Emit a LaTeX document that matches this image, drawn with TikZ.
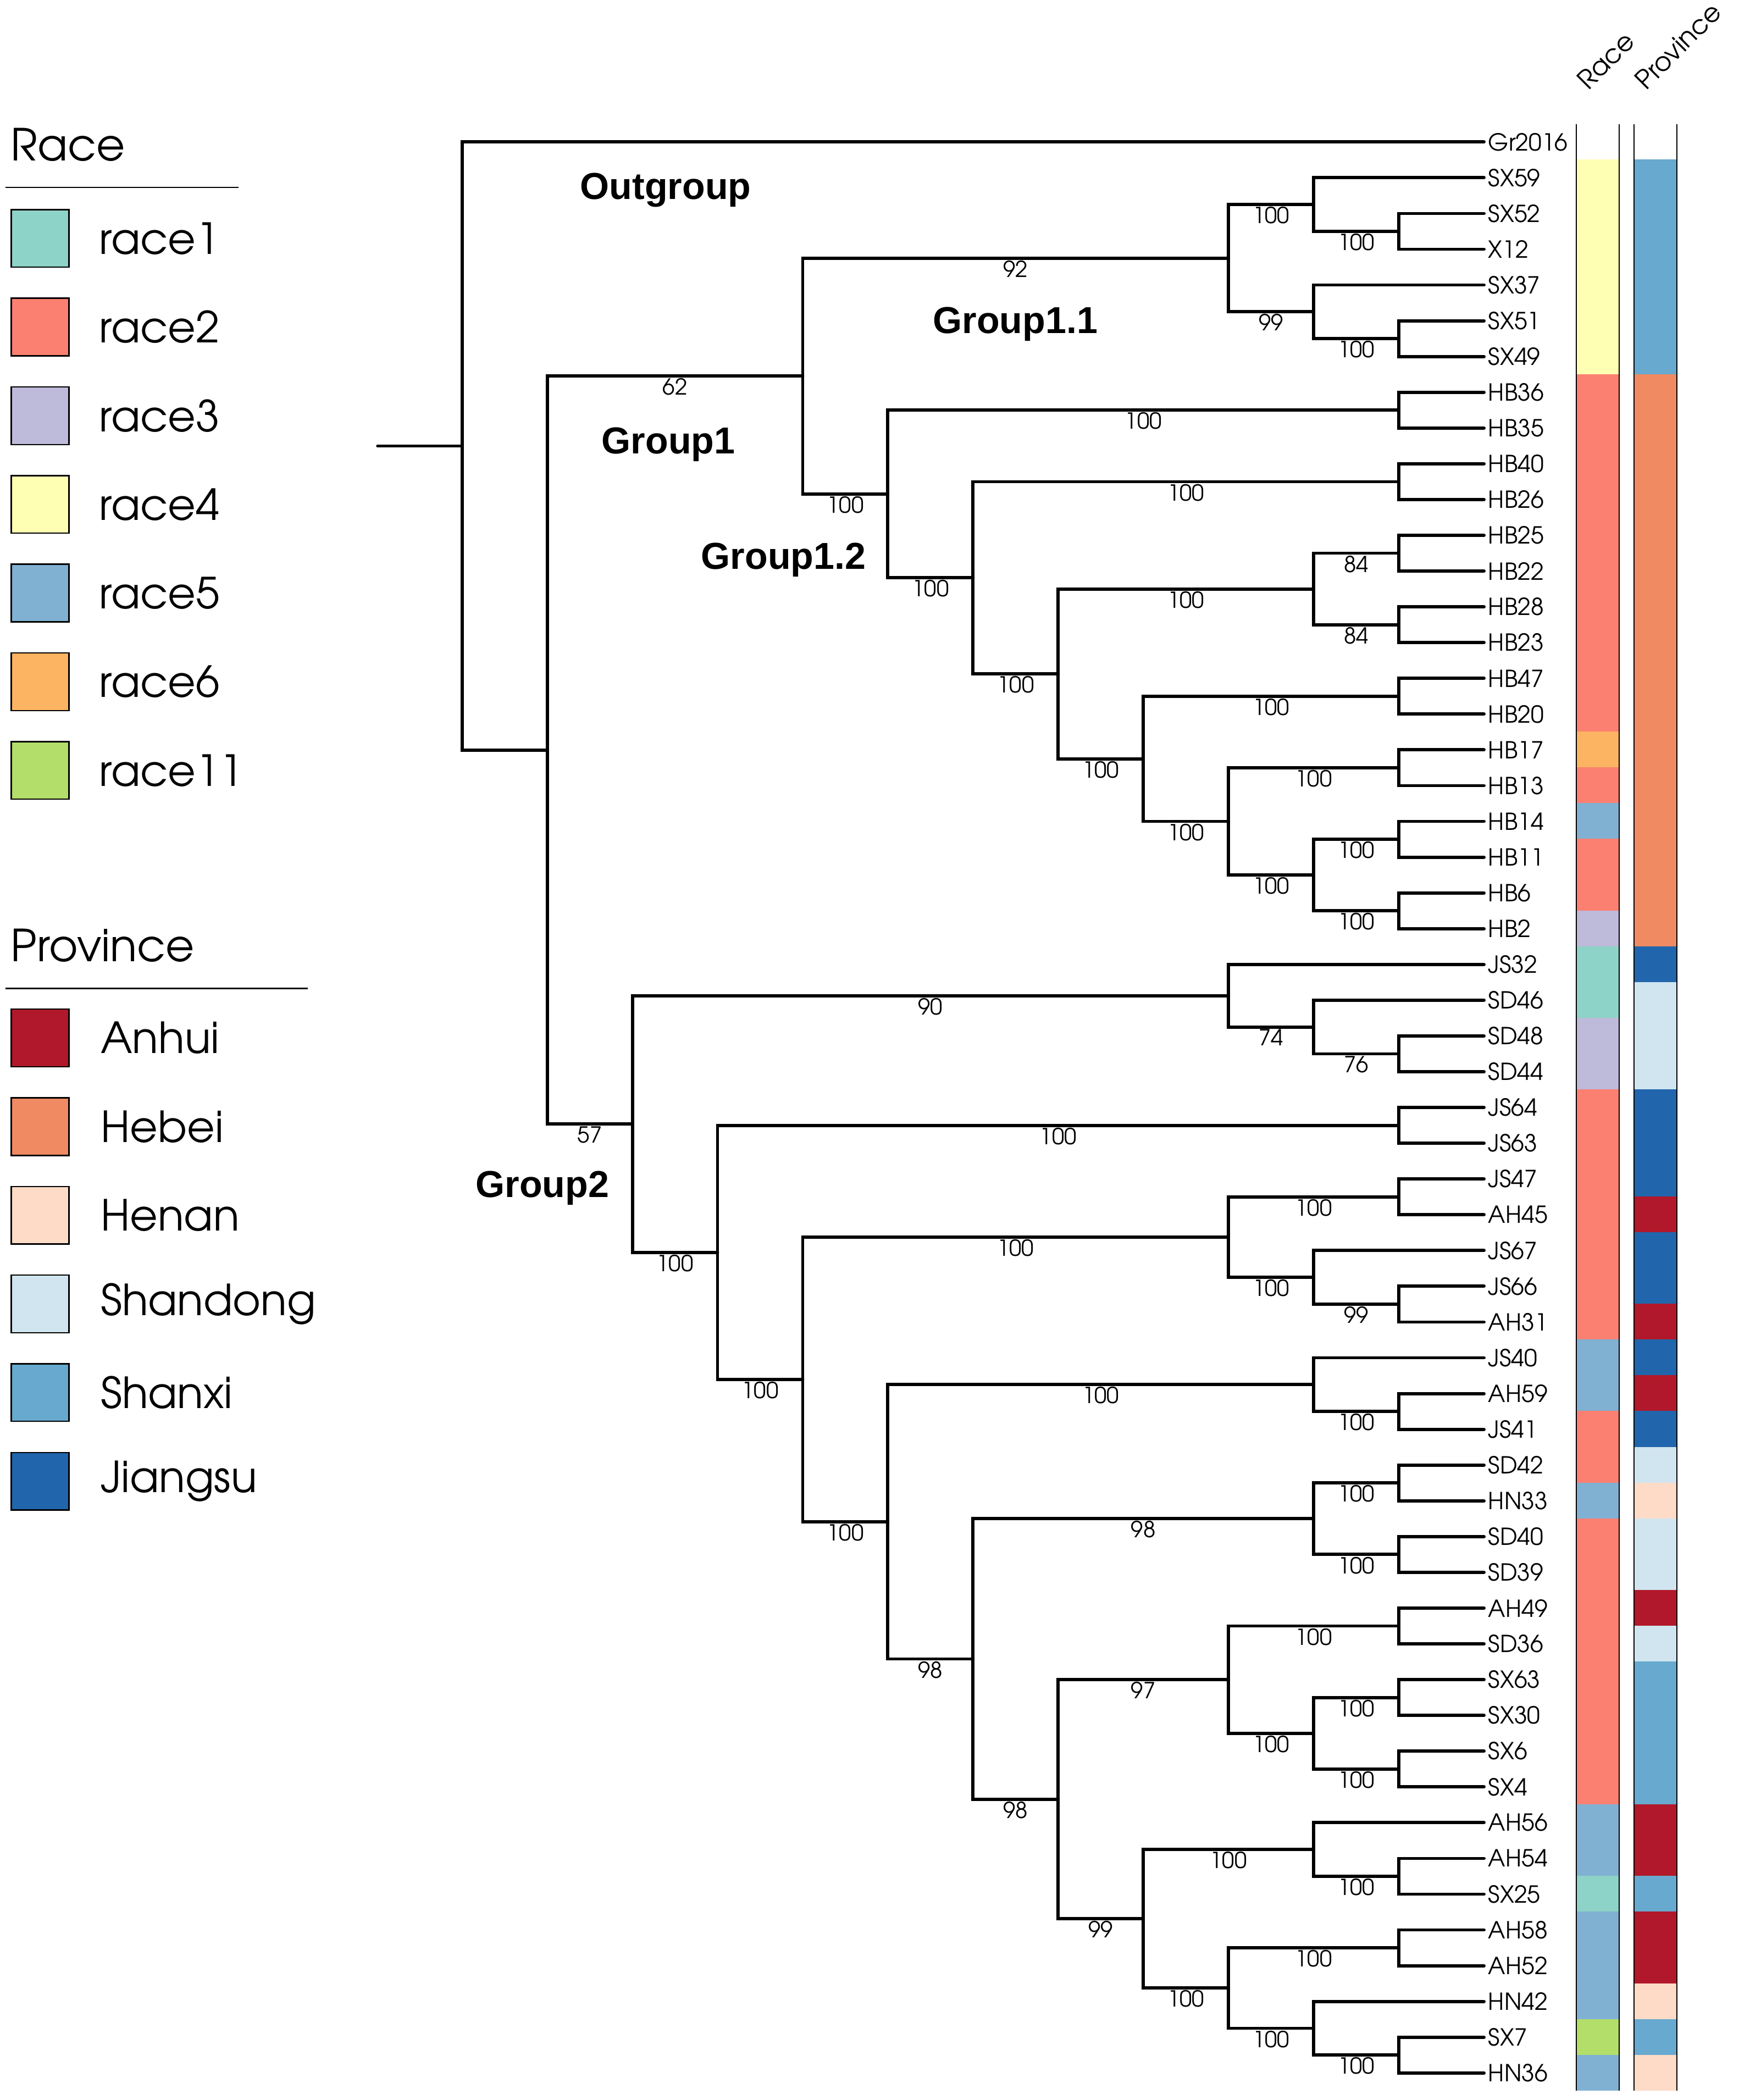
\documentclass[tikz,border=0pt]{standalone}
\usepackage{fontspec}
\setmainfont{TeX Gyre Adventor}
\newfontfamily\grpfont{Liberation Sans}
\usetikzlibrary{calc}
\definecolor{W}{HTML}{FFFFFF}
\definecolor{r1}{HTML}{8DD3C7}
\definecolor{r2}{HTML}{FB8072}
\definecolor{r3}{HTML}{BEBADA}
\definecolor{r4}{HTML}{FFFFB3}
\definecolor{r5}{HTML}{80B1D3}
\definecolor{r6}{HTML}{FDB462}
\definecolor{r11}{HTML}{B3DE69}
\definecolor{pAH}{HTML}{B2182B}
\definecolor{pHB}{HTML}{EF8A62}
\definecolor{pHN}{HTML}{FDDBC7}
\definecolor{pSD}{HTML}{D1E5F0}
\definecolor{pSX}{HTML}{67A9CF}
\definecolor{pJS}{HTML}{2166AC}
\begin{document}
\begin{tikzpicture}[x=1pt,y=-1pt,
  br/.style={line width=2.4pt, line cap=round, line join=miter},
  leaf/.style={anchor=west, inner xsep=3pt, inner ysep=0pt, font=\fontsize{17.5}{17.5}\selectfont},
  bs/.style={anchor=north, inner sep=1.6pt, font=\fontsize{16.5}{16.5}\selectfont},
  grp/.style={inner sep=0pt, font=\grpfont\bfseries\fontsize{28}{28}\selectfont},
  legtitle/.style={anchor=west, inner sep=0pt, font=\fontsize{33}{33}\selectfont},
  legtext/.style={anchor=west, inner sep=0pt, font=\fontsize{32}{32}\selectfont},
  swatch/.style={draw=black, line width=1pt, minimum size=43pt, inner sep=0pt},
  hdr/.style={anchor=base west, rotate=45, inner sep=0pt, font=\fontsize{19.5}{19.5}\selectfont},
  outl/.style={line width=0.9pt}]
\fill[white] (0,0) rectangle (1298,1568);
\useasboundingbox (0,0) rectangle (1298,1568);

% ---------- legend: Race ----------
\node[legtitle] (raceTitle) at (8,108) {Race};
\coordinate (rl1) at (4,140);
\coordinate (rl2) at (178,140);
\draw[line width=1pt] (rl1) -- (rl2);
\foreach \c/\t [count=\k from 0] in {r1/race1,r2/race2,r3/race3,r4/race4,r5/race5,r6/race6,r11/race11}{
  \node[swatch, fill=\c] (rs\k) at (30,{178+66.2*\k}) {};
  \node[legtext] (rt\k) at (74,{178+66.2*\k}) {\t};
}
% ---------- legend: Province ----------
\node[legtitle] (provTitle) at (8,706) {Province};
\coordinate (pl1) at (4,738);
\coordinate (pl2) at (230,738);
\draw[line width=1pt] (pl1) -- (pl2);
\foreach \c/\t [count=\k from 0] in {pAH/Anhui,pHB/Hebei,pHN/Henan,pSD/Shandong,pSX/Shanxi,pJS/Jiangsu}{
  \node[swatch, fill=\c] (ps\k) at (30,{775+66.2*\k}) {};
  \node[legtext] (pt\k) at (75,{775+66.2*\k}) {\t};
}

% ---------- column headers ----------
\node[hdr] (hRace) at (1186,68) {Race};
\node[hdr] (hProv) at (1229,68) {Province};

% ---------- tree, bars ----------
\begin{scope}[y=-26.7pt, yshift=-106pt]
% colour bars
\foreach \c [count=\i from 0] in {W,r4,r4,r4,r4,r4,r4,r2,r2,r2,r2,r2,r2,r2,r2,r2,r2,r6,r2,r5,r2,r2,r3,r1,r1,r3,r3,r2,r2,r2,r2,r2,r2,r2,r5,r5,r2,r2,r5,r2,r2,r2,r2,r2,r2,r2,r2,r5,r5,r1,r5,r5,r5,r11,r5}{
  \fill[\c] (1177,\i-0.51) rectangle (1209,\i+0.51);
}
\foreach \c [count=\i from 0] in {W,pSX,pSX,pSX,pSX,pSX,pSX,pHB,pHB,pHB,pHB,pHB,pHB,pHB,pHB,pHB,pHB,pHB,pHB,pHB,pHB,pHB,pHB,pJS,pSD,pSD,pSD,pJS,pJS,pJS,pAH,pJS,pJS,pAH,pJS,pAH,pJS,pSD,pHN,pSD,pSD,pAH,pSD,pSX,pSX,pSX,pSX,pAH,pAH,pSX,pAH,pAH,pHN,pSX,pHN}{
  \fill[\c] (1220,\i-0.51) rectangle (1252,\i+0.51);
}
\fill[white] (1170,-0.6) rectangle (1260,-0.5);
\fill[white] (1170,54.5) rectangle (1260,54.7);
\foreach \xx in {1177,1209,1220,1252}{
  \draw[outl] (\xx,-0.5) -- (\xx,54.5);
}

% leaves
\foreach \n [count=\i from 0] in {Gr2016,SX59,SX52,X12,SX37,SX51,SX49,HB36,HB35,HB40,HB26,HB25,HB22,HB28,HB23,HB47,HB20,HB17,HB13,HB14,HB11,HB6,HB2,JS32,SD46,SD48,SD44,JS64,JS63,JS47,AH45,JS67,JS66,AH31,JS40,AH59,JS41,SD42,HN33,SD40,SD39,AH49,SD36,SX63,SX30,SX6,SX4,AH56,AH54,SX25,AH58,AH52,HN42,SX7,HN36}{
  \node[leaf] (L\i) at (1108,\i) {\n};
}

% internal nodes
\coordinate (stub) at (282,8.5027);
\coordinate (root) at (345,8.5027);
\coordinate (a1) at (408.6,17.0054);
\coordinate (g1) at (599.3,6.5469);
\coordinate (g11) at (917.2,3.25);
\coordinate (na) at (980.8,1.75);
\coordinate (p23) at (1044.4,2.5);
\coordinate (nb) at (980.8,4.75);
\coordinate (p56) at (1044.4,5.5);
\coordinate (g12) at (662.9,9.8438);
\coordinate (p78) at (1044.4,7.5);
\coordinate (m1) at (726.5,12.1875);
\coordinate (p910) at (1044.4,9.5);
\coordinate (m2) at (790.1,14.875);
\coordinate (m3) at (980.8,12.5);
\coordinate (p1112) at (1044.4,11.5);
\coordinate (p1314) at (1044.4,13.5);
\coordinate (m4) at (853.6,17.25);
\coordinate (p1516) at (1044.4,15.5);
\coordinate (m5) at (917.2,19);
\coordinate (p1718) at (1044.4,17.5);
\coordinate (m6) at (980.8,20.5);
\coordinate (p1920) at (1044.4,19.5);
\coordinate (p2122) at (1044.4,21.5);
\coordinate (g2) at (472.2,27.4639);
\coordinate (q1) at (917.2,23.875);
\coordinate (q1b) at (980.8,24.75);
\coordinate (p2526) at (1044.4,25.5);
\coordinate (q2) at (535.7,31.0527);
\coordinate (p2728) at (1044.4,27.5);
\coordinate (q3) at (599.3,34.6055);
\coordinate (q4) at (917.2,30.625);
\coordinate (p2930) at (1044.4,29.5);
\coordinate (q4b) at (980.8,31.75);
\coordinate (p3233) at (1044.4,32.5);
\coordinate (q5) at (662.9,38.5859);
\coordinate (q5a) at (980.8,34.75);
\coordinate (p3536) at (1044.4,35.5);
\coordinate (q6) at (726.5,42.4219);
\coordinate (q6a) at (980.8,38.5);
\coordinate (p3738) at (1044.4,37.5);
\coordinate (p3940) at (1044.4,39.5);
\coordinate (q7) at (790.1,46.3438);
\coordinate (q8) at (917.2,43);
\coordinate (p4142) at (1044.4,41.5);
\coordinate (q8b) at (980.8,44.5);
\coordinate (p4344) at (1044.4,43.5);
\coordinate (p4546) at (1044.4,45.5);
\coordinate (q9) at (853.6,49.6875);
\coordinate (q9a) at (980.8,47.75);
\coordinate (p4849) at (1044.4,48.5);
\coordinate (q10) at (917.2,51.625);
\coordinate (p5051) at (1044.4,50.5);
\coordinate (q10b) at (980.8,52.75);
\coordinate (p5354) at (1044.4,53.5);

\draw[br] (stub) -- (root);
\foreach \p/\c in {root/L0.west,root/a1,a1/g1,a1/g2,
  g1/g11,g1/g12,g11/na,g11/nb,na/L1.west,na/p23,p23/L2.west,p23/L3.west,
  nb/L4.west,nb/p56,p56/L5.west,p56/L6.west,
  g12/p78,g12/m1,p78/L7.west,p78/L8.west,m1/p910,m1/m2,p910/L9.west,p910/L10.west,
  m2/m3,m2/m4,m3/p1112,m3/p1314,p1112/L11.west,p1112/L12.west,p1314/L13.west,p1314/L14.west,
  m4/p1516,m4/m5,p1516/L15.west,p1516/L16.west,m5/p1718,m5/m6,p1718/L17.west,p1718/L18.west,
  m6/p1920,m6/p2122,p1920/L19.west,p1920/L20.west,p2122/L21.west,p2122/L22.west,
  g2/q1,g2/q2,q1/L23.west,q1/q1b,q1b/L24.west,q1b/p2526,p2526/L25.west,p2526/L26.west,
  q2/p2728,q2/q3,p2728/L27.west,p2728/L28.west,q3/q4,q3/q5,
  q4/p2930,q4/q4b,p2930/L29.west,p2930/L30.west,q4b/L31.west,q4b/p3233,p3233/L32.west,p3233/L33.west,
  q5/q5a,q5/q6,q5a/L34.west,q5a/p3536,p3536/L35.west,p3536/L36.west,
  q6/q6a,q6/q7,q6a/p3738,q6a/p3940,p3738/L37.west,p3738/L38.west,p3940/L39.west,p3940/L40.west,
  q7/q8,q7/q9,q8/p4142,q8/q8b,p4142/L41.west,p4142/L42.west,q8b/p4344,q8b/p4546,
  p4344/L43.west,p4344/L44.west,p4546/L45.west,p4546/L46.west,
  q9/q9a,q9/q10,q9a/L47.west,q9a/p4849,p4849/L48.west,p4849/L49.west,
  q10/p5051,q10/q10b,p5051/L50.west,p5051/L51.west,q10b/L52.west,q10b/p5354,p5354/L53.west,p5354/L54.west}{
  \draw[br] (\p) |- (\c);
}

% bootstrap values
\foreach \p/\c/\v in {a1/g1/62,g1/g11/92,g11/na/100,na/p23/100,g11/nb/99,nb/p56/100,
  g1/g12/100,g12/p78/100,g12/m1/100,m1/p910/100,m1/m2/100,m2/m3/100,m3/p1112/84,m3/p1314/84,
  m2/m4/100,m4/p1516/100,m4/m5/100,m5/p1718/100,m5/m6/100,m6/p1920/100,m6/p2122/100,
  a1/g2/57,g2/q1/90,q1/q1b/74,q1b/p2526/76,g2/q2/100,q2/p2728/100,q2/q3/100,q3/q4/100,
  q4/p2930/100,q4/q4b/100,q4b/p3233/99,q3/q5/100,q5/q5a/100,q5a/p3536/100,q5/q6/98,
  q6/q6a/98,q6a/p3738/100,q6a/p3940/100,q6/q7/98,q7/q8/97,q8/p4142/100,q8/q8b/100,
  q8b/p4344/100,q8b/p4546/100,q7/q9/99,q9/q9a/100,q9a/p4849/100,q9/q10/100,
  q10/p5051/100,q10/q10b/100,q10b/p5354/100}{
  \node[bs] (bs-\c) at ($(\p|-\c)!0.5!(\c)$) {\v};
}
\end{scope}

% group labels
\node[grp] (lOut) at (497,142) {Outgroup};
\node[grp] (lG11) at (758,242) {Group1.1};
\node[grp] (lG1) at (499,332) {Group1};
\node[grp] (lG12) at (585,418) {Group1.2};
\node[grp] (lG2) at (405,887) {Group2};
\end{tikzpicture}
\end{document}
